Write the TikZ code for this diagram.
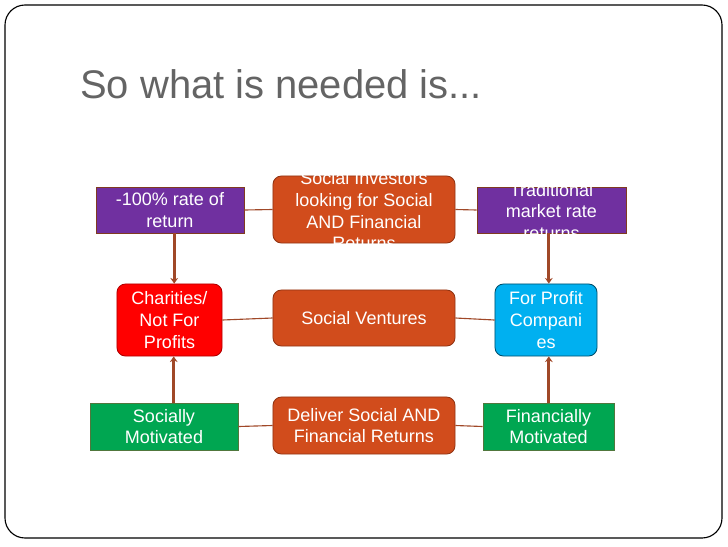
\documentclass[tikz,border=0pt]{standalone}
\usepackage{fontspec}
\setmainfont{Liberation Sans}
\usepackage{tikz}
\usetikzlibrary{arrows.meta}
\definecolor{laranja}{RGB}{209,76,28}
\definecolor{roxo}{RGB}{112,48,160}
\definecolor{vermelho}{RGB}{255,0,0}
\definecolor{azulClaro}{RGB}{0,176,240}
\definecolor{verde}{RGB}{0,166,81}
\definecolor{marrom}{RGB}{160,72,40}
\definecolor{cinzaTitulo}{RGB}{100,100,100}
\newcommand{\overflowtext}[1]{\smash{\raisebox{-5.4pt}{\begin{tabular}{@{}c@{}}#1\end{tabular}}}}

\begin{document}
\begin{tikzpicture}[
    x=0.025cm, y=-0.025cm,
    box/.style={draw=#1!70!black, fill=#1, line width=0.6pt, align=center, text=white, inner sep=0pt,
        font=\fontsize{12.8}{15.4}\selectfont},
    roundbox/.style={box=#1, rounded corners=6pt},
    link/.style={line width=0.8pt, draw=marrom},
    arrow/.style={line width=2.1pt, draw=marrom, -{Stealth[length=4pt,width=5.5pt]}}
]
    \useasboundingbox (0,0) rectangle (728,546);
    % Moldura e titulo
    \draw[line width=0.8pt, rounded corners=0.5cm] (5,5) rectangle (722,538);
    \node[anchor=base west, inner sep=0pt, text=cinzaTitulo, font=\fontsize{28.4}{34}\selectfont] (titulo) at (80,98) {So what is needed is...};

    % Linha de cima
    \node[box=roxo, draw=marrom!80!black, minimum width=3.7cm, minimum height=1.15cm] (perda) at (170,210) {-100\% rate of\\return};
    \node[roundbox=laranja, minimum width=4.55cm, minimum height=1.675cm] (investidores) at (364,209.5)
        {\overflowtext{Social Investors\\looking for Social\\AND Financial\\Returns}};
    \node[box=roxo, draw=marrom!80!black, minimum width=3.725cm, minimum height=1.15cm] (mercado) at (551.5,210)
        {\overflowtext{Traditional\\market rate\\returns}};

    % Linha do meio
    \node[roundbox=vermelho, minimum width=2.625cm, minimum height=1.8cm] (caridade) at (169.5,320) {Charities/\\Not For\\Profits};
    \node[roundbox=laranja, minimum width=4.55cm, minimum height=1.4cm] (ventures) at (364,318) {Social Ventures};
    \node[roundbox=azulClaro, draw=azulClaro!45!black, minimum width=2.55cm, minimum height=1.8cm] (lucro) at (546,320) {For Profit\\Compani\\es};

    % Linha de baixo
    \node[box=verde, draw=verde!50!marrom, minimum width=3.7cm, minimum height=1.175cm] (social) at (164,426.5) {Socially\\Motivated};
    \node[roundbox=laranja, minimum width=4.55cm, minimum height=1.425cm] (entrega) at (364,425.5) {Deliver Social AND\\Financial Returns};
    \node[box=verde, draw=verde!50!marrom, minimum width=3.275cm, minimum height=1.175cm] (financeiro) at (548.5,426.5) {Financially\\Motivated};

    % Ligacoes
    \draw[link] (perda.east) -- (investidores.west);
    \draw[link] (investidores.east) -- (mercado.west);
    \draw[link] (caridade.east) -- (ventures.west);
    \draw[link] (ventures.east) -- (lucro.west);
    \draw[link] (social.east) -- (entrega.west);
    \draw[link] (entrega.east) -- (financeiro.west);

    % Setas verticais
    \draw[arrow] ([xshift=3]perda.south) -- ([xshift=3]perda.south |- caridade.north);
    \draw[arrow] ([xshift=3]caridade.south |- social.north) -- ([xshift=3]caridade.south);
    \draw[arrow] ([xshift=2]lucro.north |- mercado.south) -- ([xshift=2]lucro.north);
    \draw[arrow] ([xshift=2]lucro.south |- financeiro.north) -- ([xshift=2]lucro.south);
\end{tikzpicture}
\end{document}
